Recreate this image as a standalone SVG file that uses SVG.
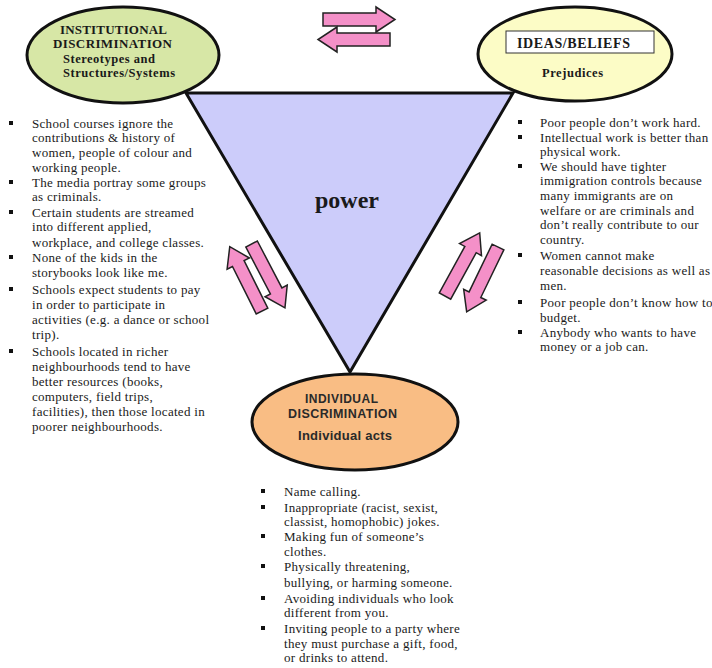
<svg xmlns="http://www.w3.org/2000/svg" xmlns:xlink="http://www.w3.org/1999/xlink" width="712" height="668" viewBox="0 0 712 668">
<style>
.node{stroke:#111;stroke-width:3}
.hd{font-family:"Liberation Serif","Times New Roman",serif;font-weight:bold;fill:#1a1a1a}
.hs{font-family:"Liberation Sans",Arial,sans-serif;font-weight:bold;fill:#2a2a2a}
.li{font-family:"Liberation Serif","Times New Roman",serif;font-size:13px;letter-spacing:0.3px;fill:#1a1a1a}
.arr{fill:#f490c8;stroke:#222;stroke-width:1.5;stroke-linejoin:miter}
.bul{fill:#111}
</style>
<defs>
<path id="arrow" d="M0,-6.5 H53 V-12.5 L72,0 L53,12.5 V6.5 H0 Z"/>
<rect id="b" width="4" height="4"/>
</defs>
<rect width="712" height="668" fill="#fff"/>

<g id="power">
<polygon class="node" points="186,93 513,93 350,372" fill="#ccccfa"/>
<text class="hd" x="347" y="208" font-size="24" text-anchor="middle">power</text>
</g>

<g id="connectors">
<use href="#arrow" class="arr" transform="translate(323,19.5)"/>
<use href="#arrow" class="arr" transform="translate(390,39.5) rotate(180)"/>
<use href="#arrow" class="arr" transform="translate(262,311) rotate(-116.6)"/>
<use href="#arrow" class="arr" transform="translate(251.6,244) rotate(62.4)"/>
<use href="#arrow" class="arr" transform="translate(445,296) rotate(-61.2)"/>
<use href="#arrow" class="arr" transform="translate(498,247) rotate(115.8)"/>
</g>

<g id="institutional">
<ellipse class="node" cx="123" cy="55" rx="96" ry="48" fill="#d7e7a6"/>
<text class="hd" x="60" y="34" font-size="13" textLength="107">INSTITUTIONAL</text>
<text class="hd" x="53" y="48" font-size="13" textLength="119">DISCRIMINATION</text>
<text class="hd" x="63" y="63" font-size="12.5" textLength="92">Stereotypes and</text>
<text class="hd" x="63" y="77" font-size="12.5" textLength="112">Structures/Systems</text>
</g>

<g id="ideas">
<ellipse class="node" cx="575" cy="54" rx="97" ry="47" fill="#fcfcc6"/>
<rect x="506" y="31" width="148" height="22" fill="#fff" stroke="#333" stroke-width="1"/>
<text class="hd" x="517" y="48" font-size="14" textLength="113">IDEAS/BELIEFS</text>
<text class="hd" x="542" y="77" font-size="12.5" textLength="61">Prejudices</text>
</g>

<g id="individual">
<ellipse class="node" cx="355" cy="422" rx="103" ry="48" fill="#f9bd84"/>
<text class="hs" x="305" y="403" font-size="12" textLength="73">INDIVIDUAL</text>
<text class="hs" x="288" y="418" font-size="12.5" textLength="109">DISCRIMINATION</text>
<text class="hs" x="298" y="440" font-size="13" textLength="94">Individual acts</text>
</g>

<g id="institutional-list">
<use href="#b" class="bul" x="9" y="121"/>
<use href="#b" class="bul" x="9" y="180"/>
<use href="#b" class="bul" x="9" y="210"/>
<use href="#b" class="bul" x="9" y="255"/>
<use href="#b" class="bul" x="9" y="287"/>
<use href="#b" class="bul" x="9" y="349"/>
<text class="li">
<tspan x="32" y="128">School courses ignore the</tspan>
<tspan x="32" y="142">contributions &amp; history of</tspan>
<tspan x="32" y="157">women, people of colour and</tspan>
<tspan x="32" y="172">working people.</tspan>
<tspan x="32" y="187">The media portray some groups</tspan>
<tspan x="32" y="201">as criminals.</tspan>
<tspan x="32" y="217">Certain students are streamed</tspan>
<tspan x="32" y="231">into different applied,</tspan>
<tspan x="32" y="247">workplace, and college classes.</tspan>
<tspan x="32" y="262">None of the kids in the</tspan>
<tspan x="32" y="277">storybooks look like me.</tspan>
<tspan x="32" y="294">Schools expect students to pay</tspan>
<tspan x="32" y="309">in order to participate in</tspan>
<tspan x="32" y="324">activities (e.g. a dance or school</tspan>
<tspan x="32" y="339">trip).</tspan>
<tspan x="32" y="356">Schools located in richer</tspan>
<tspan x="32" y="371">neighbourhoods tend to have</tspan>
<tspan x="32" y="386">better resources (books,</tspan>
<tspan x="32" y="401">computers, field trips,</tspan>
<tspan x="32" y="416">facilities), then those located in</tspan>
<tspan x="32" y="431">poorer neighbourhoods.</tspan>
</text>
</g>

<g id="ideas-list">
<use href="#b" class="bul" x="518" y="120"/>
<use href="#b" class="bul" x="518" y="135"/>
<use href="#b" class="bul" x="518" y="164"/>
<use href="#b" class="bul" x="518" y="253"/>
<use href="#b" class="bul" x="518" y="300"/>
<use href="#b" class="bul" x="518" y="330"/>
<text class="li">
<tspan x="540" y="127">Poor people don’t work hard.</tspan>
<tspan x="540" y="142">Intellectual work is better than</tspan>
<tspan x="540" y="156">physical work.</tspan>
<tspan x="540" y="171">We should have tighter</tspan>
<tspan x="540" y="185">immigration controls because</tspan>
<tspan x="540" y="200">many immigrants are on</tspan>
<tspan x="540" y="215">welfare or are criminals and</tspan>
<tspan x="540" y="229">don’t really contribute to our</tspan>
<tspan x="540" y="244">country.</tspan>
<tspan x="540" y="260">Women cannot make</tspan>
<tspan x="540" y="275">reasonable decisions as well as</tspan>
<tspan x="540" y="290">men.</tspan>
<tspan x="540" y="307">Poor people don’t know how to</tspan>
<tspan x="540" y="322">budget.</tspan>
<tspan x="540" y="337">Anybody who wants to have</tspan>
<tspan x="540" y="351">money or a job can.</tspan>
</text>
</g>

<g id="individual-list">
<use href="#b" class="bul" x="261" y="489"/>
<use href="#b" class="bul" x="261" y="505"/>
<use href="#b" class="bul" x="261" y="534"/>
<use href="#b" class="bul" x="261" y="564"/>
<use href="#b" class="bul" x="261" y="596"/>
<use href="#b" class="bul" x="261" y="626"/>
<text class="li">
<tspan x="284" y="496">Name calling.</tspan>
<tspan x="284" y="512">Inappropriate (racist, sexist,</tspan>
<tspan x="284" y="526">classist, homophobic) jokes.</tspan>
<tspan x="284" y="541">Making fun of someone’s</tspan>
<tspan x="284" y="556">clothes.</tspan>
<tspan x="284" y="571">Physically threatening,</tspan>
<tspan x="284" y="587">bullying, or harming someone.</tspan>
<tspan x="284" y="603">Avoiding individuals who look</tspan>
<tspan x="284" y="617">different from you.</tspan>
<tspan x="284" y="633">Inviting people to a party where</tspan>
<tspan x="284" y="648">they must purchase a gift, food,</tspan>
<tspan x="284" y="662">or drinks to attend.</tspan>
</text>
</g>
</svg>
